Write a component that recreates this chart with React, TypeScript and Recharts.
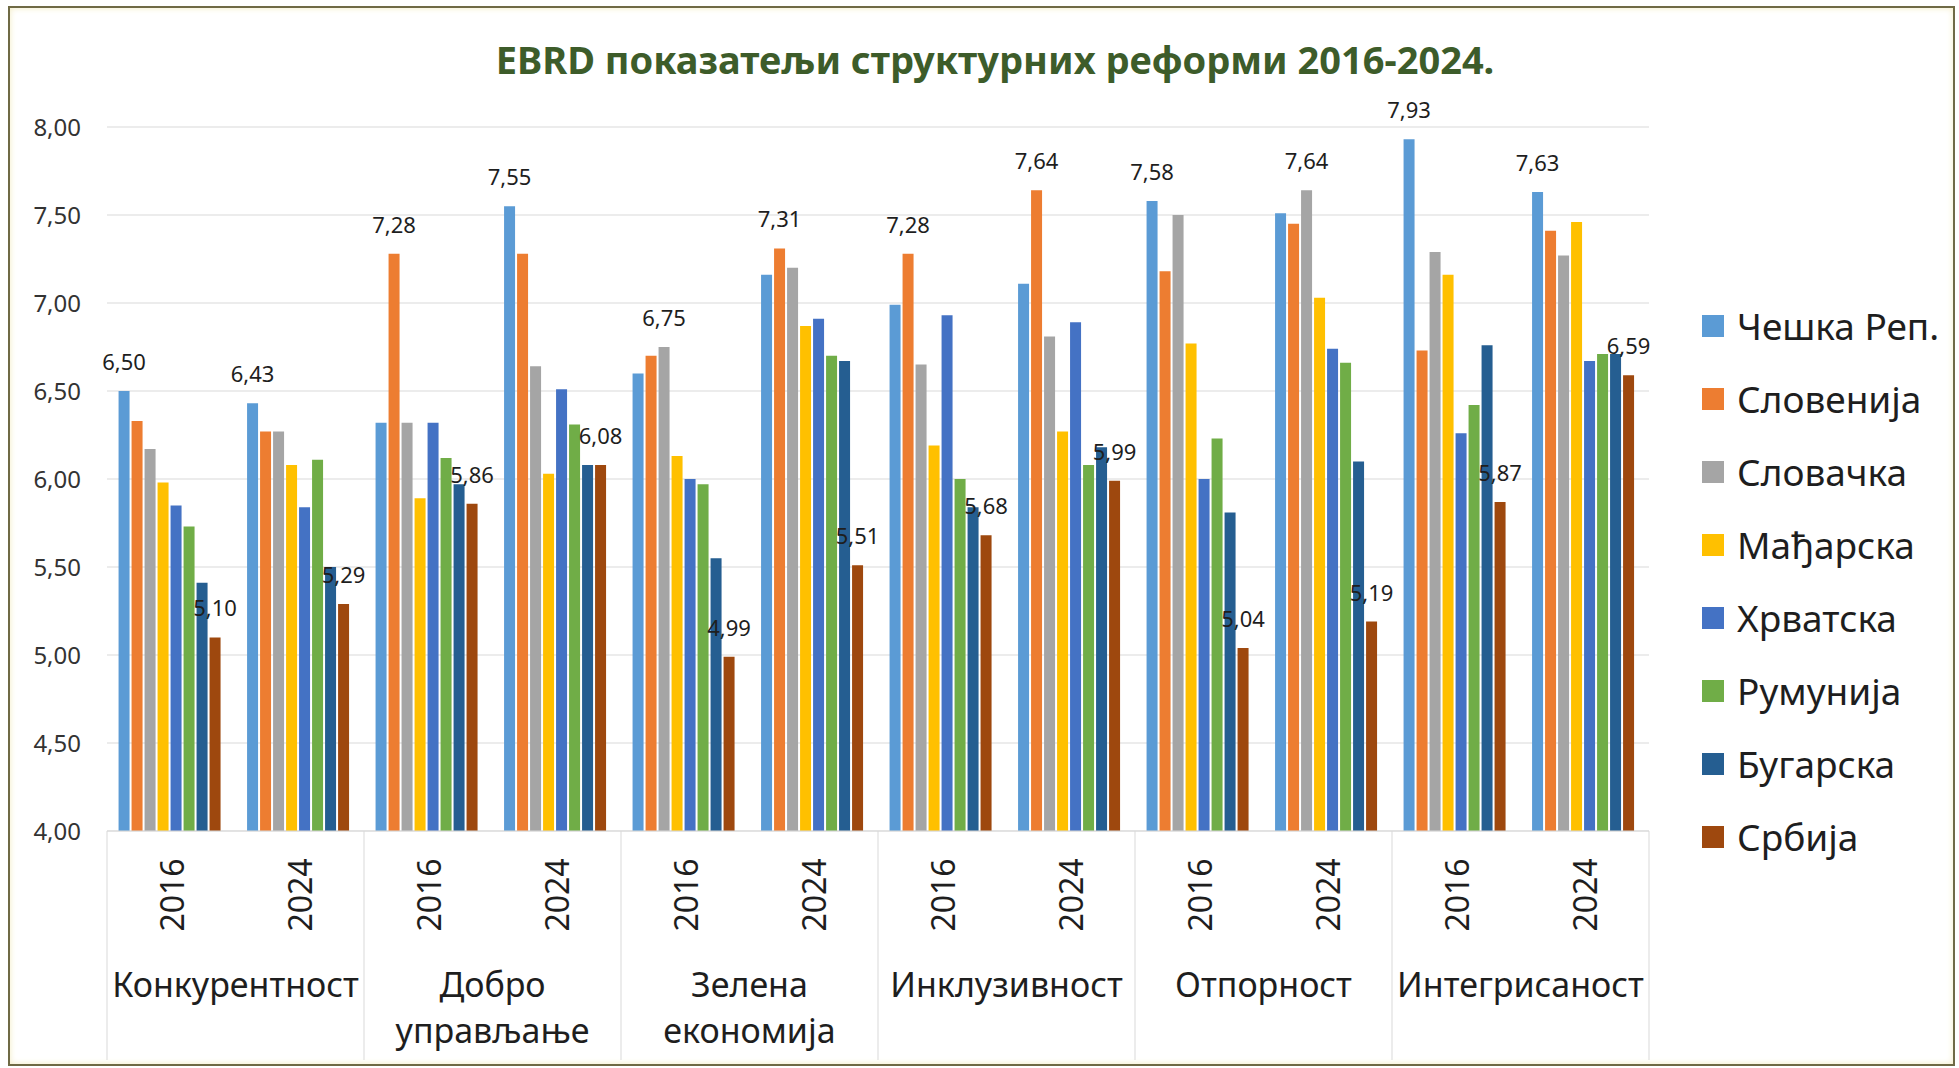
import React from "react";
import { Bar, BarChart, CartesianGrid, LabelList, Legend, XAxis, YAxis } from "recharts";

const CATEGORIES = [
  "Конкурентност",
  "Добро управљање",
  "Зелена економија",
  "Инклузивност",
  "Отпорност",
  "Интегрисаност",
];
const YEARS = ["2016", "2024"];

const COUNTRIES = [
  "Чешка Реп.",
  "Словенија",
  "Словачка",
  "Мађарска",
  "Хрватска",
  "Румунија",
  "Бугарска",
  "Србија",
];
const COLORS = ["#5b9bd5", "#ed7d31", "#a5a5a5", "#ffc000", "#4472c4", "#70ad47", "#255e91", "#9e480e"];

// order: each category 2016, 2024
const CZECH = [6.5, 6.43, 6.32, 7.55, 6.6, 7.16, 6.99, 7.11, 7.58, 7.51, 7.93, 7.63];
const SLOVENIA = [6.33, 6.27, 7.28, 7.28, 6.7, 7.31, 7.28, 7.64, 7.18, 7.45, 6.73, 7.41];
const SLOVAKIA = [6.17, 6.27, 6.32, 6.64, 6.75, 7.2, 6.65, 6.81, 7.5, 7.64, 7.29, 7.27];
const HUNGARY = [5.98, 6.08, 5.89, 6.03, 6.13, 6.87, 6.19, 6.27, 6.77, 7.03, 7.16, 7.46];
const CROATIA = [5.85, 5.84, 6.32, 6.51, 6.0, 6.91, 6.93, 6.89, 6.0, 6.74, 6.26, 6.67];
const ROMANIA = [5.73, 6.11, 6.12, 6.31, 5.97, 6.7, 6.0, 6.08, 6.23, 6.66, 6.42, 6.71];
const BULGARIA = [5.41, 5.5, 5.97, 6.08, 5.55, 6.67, 5.84, 6.18, 5.81, 6.1, 6.76, 6.71];
const SERBIA = [5.1, 5.29, 5.86, 6.08, 4.99, 5.51, 5.68, 5.99, 5.04, 5.19, 5.87, 6.59];

const SERIES = [CZECH, SLOVENIA, SLOVAKIA, HUNGARY, CROATIA, ROMANIA, BULGARIA, SERBIA];

const Y_TICKS = [4, 4.5, 5, 5.5, 6, 6.5, 7, 7.5, 8];

const W = 1959;
const H = 1068;
const MARGIN = { top: 127, right: 310, bottom: 0, left: 10 };
const Y_AXIS_W = 97;
const X_AXIS_H = 237;
const BAND = (W - MARGIN.left - Y_AXIS_W - MARGIN.right) / (CATEGORIES.length * YEARS.length);
const FONT = '"Noto Sans", "Open Sans", sans-serif';
const TEXT = "#1e1e1e";

const rows = CATEGORIES.flatMap((cat, c) =>
  YEARS.map((year, y) => {
    const i = c * YEARS.length + y;
    const row: Record<string, string | number> = { key: `${cat} ${year}`, year, cat };
    SERIES.forEach((values, s) => {
      row[`s${s}`] = values[i];
    });
    return row;
  })
);

const rowMax = rows.map((_, i) => Math.max(...SERIES.map((values) => values[i])));

const fmt = (v: number) => v.toFixed(2).replace(".", ",");

// label shown on the highest bar of each group and on every Serbia bar
const makeLabel = (s: number) => (props: any) => {
  const { x, y, width, value, index } = props;
  if (s !== SERIES.length - 1 && value !== rowMax[index]) return null;
  return (
    <text
      x={Number(x) + Number(width) / 2}
      y={Number(y) - 21}
      textAnchor="middle"
      fontSize={22}
      fontFamily={FONT}
      fill={TEXT}
    >
      {fmt(Number(value))}
    </text>
  );
};

const AxisTick = (props: any) => {
  const { x, y, payload } = props;
  const i: number = props.index ?? payload.index;
  const year = YEARS[i % YEARS.length];
  const cat = CATEGORIES[Math.floor(i / YEARS.length)];
  const first = i % YEARS.length === 0;
  const last = i === rows.length - 1;
  const left = x - BAND / 2;
  const right = x + BAND / 2;
  return (
    <g>
      {first && <line x1={left} x2={left} y1={y} y2={y + 229} stroke="#d9d9d9" />}
      {last && <line x1={right} x2={right} y1={y} y2={y + 229} stroke="#d9d9d9" />}
      <text
        transform={`translate(${x},${y + 64}) rotate(-90)`}
        textAnchor="middle"
        dominantBaseline="central"
        fontSize={32}
        fontFamily={FONT}
        fill={TEXT}
      >
        {year}
      </text>
      {first &&
        cat.split(" ").map((line, k) => (
          <text
            key={k}
            x={right}
            y={y + 166 + k * 46}
            textAnchor="middle"
            fontSize={34}
            fontFamily={FONT}
            fill={TEXT}
          >
            {line}
          </text>
        ))}
    </g>
  );
};

// keep the legend in series order (recharts sorts it by name otherwise)
const LegendList = (props: any) => {
  const items = [...(props.payload ?? [])].sort(
    (a: any, b: any) => COUNTRIES.indexOf(a.value) - COUNTRIES.indexOf(b.value)
  );
  return (
    <div style={{ fontFamily: FONT }}>
      {items.map((entry: any) => (
        <div key={entry.value} style={{ display: "flex", alignItems: "center", height: 73 }}>
          <span style={{ width: 22, height: 22, background: entry.color, marginRight: 13, flex: "none" }} />
          <span style={{ fontSize: 37, color: TEXT, whiteSpace: "nowrap" }}>{entry.value}</span>
        </div>
      ))}
    </div>
  );
};

export default function App() {
  return (
    <div style={{ position: "absolute", left: 0, top: 0, width: W, height: H, background: "#fff", overflow: "hidden" }}>
      <div
        style={{
          position: "absolute",
          left: 8,
          top: 6,
          width: W - 12,
          height: H - 8,
          border: "2px solid #6f6a45",
          boxShadow: "inset 0 0 6px #f2ebc2",
          boxSizing: "border-box",
        }}
      />
      <div
        style={{
          position: "absolute",
          left: 0,
          top: 36,
          width: 1990,
          textAlign: "center",
          fontFamily: FONT,
          fontWeight: 700,
          fontSize: 38,
          lineHeight: "46px",
          color: "#3d5c2a",
        }}
      >
        EBRD показатељи структурних реформи 2016-2024.
      </div>
      <div style={{ position: "absolute", left: 0, top: 0 }}>
        <BarChart width={W} height={H} data={rows} margin={MARGIN} barCategoryGap="9%" barGap={2}>
          <CartesianGrid vertical={false} stroke="#d9d9d9" />
          <XAxis
            dataKey="key"
            interval={0}
            height={X_AXIS_H}
            tickSize={0}
            tickMargin={0}
            axisLine={{ stroke: "#d9d9d9" }}
            tickLine={false}
            tick={<AxisTick />}
          />
          <YAxis
            domain={[4, 8]}
            ticks={Y_TICKS}
            width={Y_AXIS_W}
            tickFormatter={fmt}
            axisLine={false}
            tickLine={false}
            tickSize={0}
            tickMargin={26}
            tick={{ fontSize: 24, fontFamily: FONT, fill: "#333" }}
          />
          <Legend
            layout="vertical"
            align="center"
            verticalAlign="middle"
            wrapperStyle={{ left: 1702, top: 289, width: 257 }}
            content={<LegendList />}
          />
          {COUNTRIES.map((name, s) => (
            <Bar key={name} dataKey={`s${s}`} name={name} fill={COLORS[s]} isAnimationActive={false}>
              <LabelList dataKey={`s${s}`} content={makeLabel(s)} />
            </Bar>
          ))}
        </BarChart>
      </div>
    </div>
  );
}
